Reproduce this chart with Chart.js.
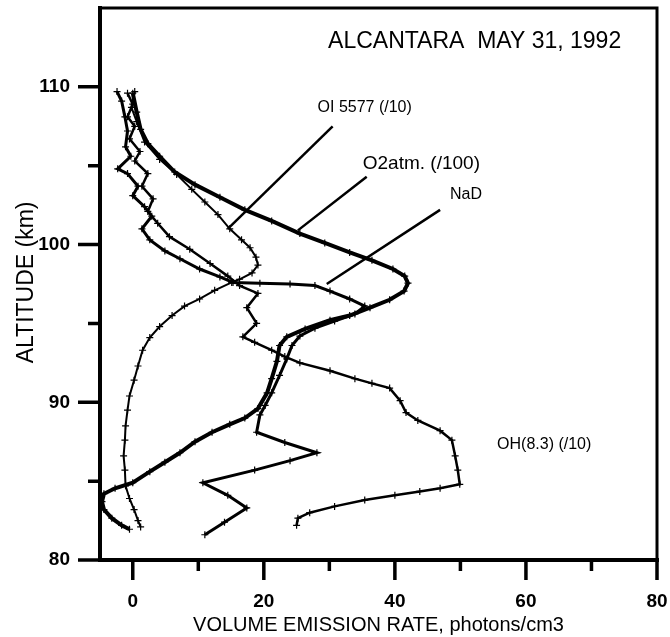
<!DOCTYPE html>
<html>
<head>
<meta charset="utf-8">
<script src="https://cdn.jsdelivr.net/npm/chart.js@4.4.1/dist/chart.umd.min.js"></script>
<style>
  html, body { margin: 0; padding: 0; background: #fff; }
  #wrap { width: 670px; height: 637px; }
</style>
</head>
<body>
<div id="wrap"><canvas id="chart" width="670" height="637"></canvas></div>
<script>
// altitude (km) and volume emission rate
const oiAlt = [109.7,108.7,107.8,106.5,105.4,104.45,103.5,102.7,101.9,101.0,100.3,99.8,99.2,98.7,98.2,97.8,97.6,97.1,96.55,96.1,95.5,94.8,94.1,93.3,92.3,91.4,90.4,89.5,88.5,87.6,86.6,85.7,84.7,83.9,83.2,82.5,82.1];
const oiRate = [0.3,-0.2,0.6,1.8,4.1,6.7,9.0,11.0,13.0,14.8,16.6,17.9,18.8,19.1,18.2,16.3,15.1,12.5,10.2,7.9,6.0,4.1,2.6,1.5,0.8,0.2,-0.5,-0.8,-1.1,-1.2,-1.4,-1.2,-1.1,-0.5,0.2,0.8,1.2];

const o2Alt = [109.6,108.4,107.3,106.4,105.6,104.6,103.8,103.0,102.2,101.5,100.7,100.1,99.5,99.0,98.45,98.0,97.55,97.05,96.5,96.0,95.5,95.2,94.65,94.15,93.6,92.6,91.5,90.6,89.6,89.0,88.6,88.1,87.5,86.8,86.2,85.6,84.9,84.55,84.2,83.7,83.2,82.65,82.2,81.95];
const o2Rate = [0,0.6,1.2,2.3,4.1,6.4,9.5,13.3,17.1,21.2,25.5,29.3,33.1,36.5,39.7,41.5,42.0,41.4,39.2,36.2,33.1,30.1,26.3,23.5,22.4,22.0,21.2,20.5,19.1,17.1,14.8,12.1,9.5,7.2,4.9,2.6,0,-2.7,-4.4,-4.7,-4.4,-3.2,-1.7,-0.5];

const naAlt = [109.7,109.1,108.1,107.2,106.2,105.6,104.8,104.5,103.7,103.1,102.4,101.8,101.0,100.3,99.6,99.1,98.45,97.95,97.6,97.55,97.5,97.4,97.05,96.55,96.1,95.6,95.15,94.7,94.2,93.6,92.75,91.7,90.6,89.8,89.2,88.1,87.45,86.8,86.3,85.7,84.9,84.1,83.3,82.4,81.6];
const naRate = [-2.4,-1.7,-1.2,-0.8,-1.1,-0.3,-2.3,-0.8,0.8,0,1.8,2.9,1.4,2.6,4.9,7.2,10.2,13.3,15.3,19.4,24.0,27.8,30.1,33.1,35.4,33.9,30.8,27.8,25.5,24.3,23.5,22.4,21.2,20.2,19.4,18.9,23.2,28.1,24.0,18.6,10.7,14.5,17.4,14.0,11.0];

const ohAlt = [109.6,108.9,108.1,107.5,106.7,105.9,105.3,104.5,103.7,102.9,102.1,101.35,100.5,99.7,98.8,98.0,97.4,96.9,96.0,95.0,94.15,93.8,93.3,92.9,92.5,92.0,91.5,91.2,90.9,90.1,89.35,88.85,88.2,87.6,86.6,85.7,84.8,84.55,84.35,84.1,83.8,83.4,83.0,82.65,82.2];
const ohRate = [-0.8,0,-0.8,0.3,-0.5,1.1,0.3,2.3,1.4,3.1,2.3,3.8,5.6,8.7,11.8,14.5,16.3,19.1,17.4,18.9,16.8,18.6,21.2,23.2,25.5,30.1,33.9,36.5,39.2,40.8,41.7,43.5,46.9,48.7,49.2,49.6,49.9,46.9,43.8,40.0,35.4,30.8,27.0,25.2,25.0];

// leader lines from labels to curves: [rate, alt] pairs
const oiLeader = [[30.5, 107.5], [14.5, 101.0]];
const o2Leader = [[35.7, 104.3], [25.2, 100.9]];
const naLeader = [[46.9, 102.2], [29.6, 97.5]];

const xTicks = [0, 20, 40, 60, 80];
const xMinor = [10, 30, 50, 70];
const yTicks = [80, 90, 100, 110];
const yMinor = [85, 95, 105];

const FONT = 'Liberation Sans, Arial, sans-serif';
const TICK_FONT = 'bold 19px ' + FONT;
const Y_TITLE = 'ALTITUDE (km)';

// text labels placed in data coordinates
const notes = [
    { text: 'ALCANTARA  MAY 31, 1992', x: 29.8, y: 112.85, font: '23px ' + FONT },
    { text: 'OI 5577 (/10)', x: 28.2, y: 108.7, font: '16px ' + FONT },
    { text: 'O2atm. (/100)', x: 35.1, y: 105.1, font: '19px ' + FONT },
    { text: 'NaD', x: 48.4, y: 103.2, font: '16px ' + FONT },
    { text: 'OH(8.3) (/10)', x: 55.6, y: 87.3, font: '16px ' + FONT }
];

function toPoints(alt, rate) {
    return alt.map((a, i) => ({ x: rate[i], y: a }));
}

function curve(alt, rate, width) {
    return {
        data: toPoints(alt, rate),
        showLine: true,
        borderColor: '#000',
        borderWidth: width,
        pointStyle: 'cross',
        pointRadius: 3.5,
        pointBorderWidth: 1.2,
        pointBorderColor: '#000',
        tension: 0
    };
}

function leader(pts) {
    return {
        data: pts.map(p => ({ x: p[0], y: p[1] })),
        showLine: true,
        borderColor: '#000',
        borderWidth: 2.5,
        pointRadius: 0
    };
}

const framePlugin = {
    id: 'frame',
    afterDraw(chart) {
        const { ctx, chartArea: a, scales: { x, y } } = chart;
        ctx.save();
        ctx.strokeStyle = '#000';
        ctx.lineCap = 'square';

        // box
        ctx.lineWidth = 3;
        ctx.strokeRect(a.left, a.top, a.right - a.left, a.bottom - a.top);
        ctx.lineWidth = 4;
        ctx.beginPath();
        ctx.moveTo(a.left, a.top);
        ctx.lineTo(a.left, a.bottom);
        ctx.lineTo(a.right, a.bottom);
        ctx.stroke();

        // outward ticks
        ctx.lineCap = 'butt';
        ctx.lineWidth = 3.5;
        ctx.beginPath();
        xTicks.forEach(v => { const px = x.getPixelForValue(v); ctx.moveTo(px, a.bottom); ctx.lineTo(px, a.bottom + 20); });
        xMinor.forEach(v => { const px = x.getPixelForValue(v); ctx.moveTo(px, a.bottom); ctx.lineTo(px, a.bottom + 11); });
        yTicks.forEach(v => { const py = y.getPixelForValue(v); ctx.moveTo(a.left, py); ctx.lineTo(a.left - 22, py); });
        yMinor.forEach(v => { const py = y.getPixelForValue(v); ctx.moveTo(a.left, py); ctx.lineTo(a.left - 12, py); });
        ctx.stroke();

        // tick labels
        ctx.fillStyle = '#000';
        ctx.font = TICK_FONT;
        ctx.textBaseline = 'middle';
        ctx.textAlign = 'center';
        xTicks.forEach(v => ctx.fillText(String(v), x.getPixelForValue(v), a.bottom + 42));
        ctx.textAlign = 'right';
        yTicks.forEach(v => ctx.fillText(String(v), a.left - 30, y.getPixelForValue(v)));

        // y axis title, sits a little above the middle in the scan
        ctx.save();
        ctx.translate(27, y.getPixelForValue(97.6));
        ctx.rotate(-Math.PI / 2);
        ctx.textAlign = 'center';
        ctx.font = '23px ' + FONT;
        ctx.fillText(Y_TITLE, 0, 0);
        ctx.restore();

        // annotations
        ctx.textAlign = 'left';
        notes.forEach(n => {
            ctx.font = n.font;
            ctx.fillText(n.text, x.getPixelForValue(n.x), y.getPixelForValue(n.y));
        });
        ctx.restore();
    }
};

new Chart(document.getElementById('chart'), {
    type: 'scatter',
    data: {
        datasets: [
            curve(o2Alt, o2Rate, 4),
            curve(naAlt, naRate, 3),
            curve(ohAlt, ohRate, 2.5),
            curve(oiAlt, oiRate, 2),
            leader(oiLeader),
            leader(o2Leader),
            leader(naLeader)
        ]
    },
    options: {
        responsive: false,
        animation: false,
        layout: { padding: { top: 8, right: 13, left: 0, bottom: 0 } },
        plugins: { legend: { display: false }, tooltip: { enabled: false } },
        scales: {
            x: {
                type: 'linear',
                min: -5,
                max: 80,
                afterBuildTicks: s => { s.ticks = xTicks.map(v => ({ value: v })); },
                afterFit: s => { s.height = 77; },
                grid: { display: false, drawTicks: false },
                border: { display: false },
                ticks: { display: false },
                title: {
                    display: true,
                    text: 'VOLUME EMISSION RATE, photons/cm3',
                    color: '#000',
                    padding: { top: 0, bottom: 0 },
                    font: { family: FONT, size: 20 }
                }
            },
            y: {
                type: 'linear',
                min: 80,
                max: 115,
                afterBuildTicks: s => { s.ticks = yTicks.map(v => ({ value: v })); },
                afterFit: s => { s.width = 100; },
                grid: { display: false, drawTicks: false },
                border: { display: false },
                ticks: { display: false },
                title: { display: false }
            }
        }
    },
    plugins: [framePlugin]
});
</script>
</body>
</html>
